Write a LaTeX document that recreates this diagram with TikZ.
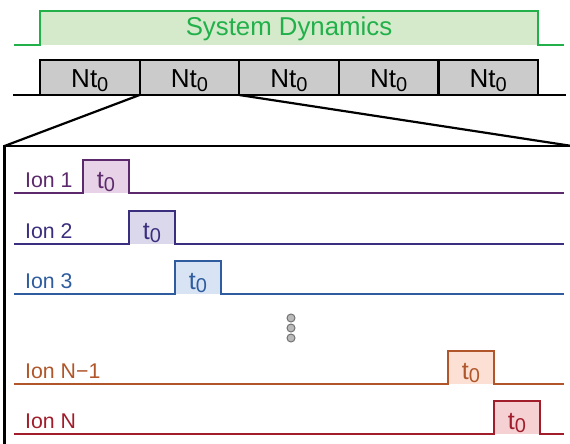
\documentclass[tikz,border=0pt]{standalone}
\usepackage{fontspec}
\setmainfont{Liberation Sans}
\definecolor{gline}{HTML}{22B04B}
\definecolor{gfill}{HTML}{D4EACB}
\definecolor{ntfill}{HTML}{CBCBCB}
\definecolor{ionA}{HTML}{5C2A6C}\definecolor{ionAf}{HTML}{E7D2E7}
\definecolor{ionB}{HTML}{3A2F7E}\definecolor{ionBf}{HTML}{DCD8EC}
\definecolor{ionC}{HTML}{2E5C9E}\definecolor{ionCf}{HTML}{D8E3F3}
\definecolor{ionD}{HTML}{B0562A}\definecolor{ionDf}{HTML}{FBE0D3}
\definecolor{ionE}{HTML}{A11D2B}\definecolor{ionEf}{HTML}{F6D1D3}
\newcommand\tz{{\fontsize{25}{25}\selectfont t}\raisebox{-3pt}{\fontsize{20}{20}\selectfont 0}}
\newcommand\ntz{{\fontsize{26}{26}\selectfont Nt}\raisebox{-4pt}{\fontsize{20}{20}\selectfont 0}}
\newcommand\ionrow[6]{%
  \node[pulsebox, fill=#2, anchor=south west] (p#6) at (#4,#3) {};
  \draw[#1, line width=2pt] (14,#3) -- (p#6.south west) -- (p#6.north west) -- (p#6.north east) -- (p#6.south east) -- (564,#3);
  \node[#1, anchor=base west, font=\fontsize{21.3}{21}\selectfont, inner sep=0] (l#6) at (25,{#3-5}) {#5};
  \node[#1, anchor=base, inner sep=0] (t#6) at ({#4+23},{#3-4}) {\tz};
}
\begin{document}
\begin{tikzpicture}[x=1pt,y=-1pt,
  ntbox/.style={draw=black, fill=ntfill, line width=2.2pt, minimum width=99.6pt, minimum height=35pt, inner sep=0, outer sep=0, anchor=north west},
  pulsebox/.style={minimum width=46pt, minimum height=32.5pt, inner sep=0, outer sep=0, draw=none},
  dotc/.style={circle, draw=black!55, fill=black!27, line width=1pt, minimum size=8pt, inner sep=0},
  blk/.style={line width=2.2pt, black}]
\useasboundingbox (0,0) rectangle (570,444);
% system dynamics pulse
\node[fill=gfill, minimum width=498pt, minimum height=34pt, inner sep=0, outer sep=0, anchor=south west] (sd) at (40,45) {};
\draw[gline, line width=2pt] (14,45) -- (sd.south west) -- (sd.north west) -- (sd.north east) -- (sd.south east) -- (564,45);
\node[gline, anchor=base, font=\fontsize{25.8}{26}\selectfont, inner sep=0] (sdt) at (289,36) {System Dynamics};
% Nt boxes
\node[ntbox] (n1) at (40,60) {};
\node[ntbox] (n2) at (n1.north east) {};
\node[ntbox] (n3) at (n2.north east) {};
\node[ntbox] (n4) at (n3.north east) {};
\node[ntbox] (n5) at (n4.north east) {};
\foreach \i in {1,...,5}{
  \node[anchor=base, inner sep=0] (nt\i) at ([yshift=8pt]n\i.south) {\ntz};
}
\draw[blk] (13,95) -- (566,95);
% zoom frame
\coordinate (fl) at (4.5,146);
\coordinate (fr) at (572,146);
\coordinate (fb) at (4.5,446);
\draw[blk] (n2.south west) -- (fl);
\draw[blk] (n3.south west) -- (fr);
\draw[blk] (fb) -- (fl) -- (fr);
% ion rows
\ionrow{ionA}{ionAf}{192.5}{83}{Ion 1}{1}
\ionrow{ionB}{ionBf}{243.5}{129}{Ion 2}{2}
\ionrow{ionC}{ionCf}{293.5}{175}{Ion 3}{3}
\ionrow{ionD}{ionDf}{383.5}{448}{Ion N−1}{4}
\ionrow{ionE}{ionEf}{433.5}{494}{Ion N}{5}
% dots
\node[dotc] (d1) at (291,318) {};
\node[dotc] (d2) at (291,328) {};
\node[dotc] (d3) at (291,338) {};
\end{tikzpicture}
\end{document}
